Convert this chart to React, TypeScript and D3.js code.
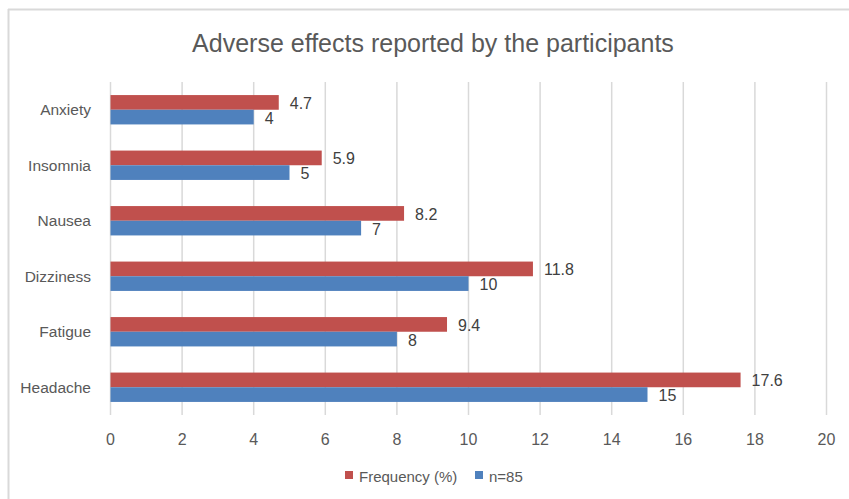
import React from "react";
import * as d3 from "d3";

const categories = ["Anxiety", "Insomnia", "Nausea", "Dizziness", "Fatigue", "Headache"];
const frequency = [4.7, 5.9, 8.2, 11.8, 9.4, 17.6];
const counts = [4, 5, 7, 10, 8, 15];
const xTicks = [0, 2, 4, 6, 8, 10, 12, 14, 16, 18, 20];
const seriesNames = ["Frequency (%)", "n=85"];
const colors = ["#C0504D", "#4F81BD"];

const W = 849;
const H = 499;
const FONT = "'Liberation Sans', Arial, sans-serif";

export default function App() {
  const x = d3.scaleLinear().domain([0, 20]).range([110.5, 826.5]);
  const y = d3.scaleBand<string>().domain(categories).range([82, 415]).paddingInner(0).paddingOuter(0);
  const inner = d3
    .scaleBand<number>()
    .domain([0, 1])
    .range([0, y.bandwidth()])
    .paddingInner(0)
    .paddingOuter(0.89);
  const series = [frequency, counts];

  return (
    <svg
      width={W}
      height={H}
      style={{ position: "absolute", left: 0, top: 0, background: "#fff" }}
      fontFamily={FONT}
    >
      <rect x={0} y={0} width={W} height={H} fill="#fff" />
      <line x1={8} x2={W} y1={9.5} y2={9.5} stroke="#d9d9d9" strokeWidth={2} />
      <line x1={8.5} x2={8.5} y1={9} y2={H} stroke="#d9d9d9" strokeWidth={2} />
      <text x={433} y={52} textAnchor="middle" fontSize={25} fill="#595959">
        Adverse effects reported by the participants
      </text>
      {xTicks.map((t) => (
        <line
          key={"g" + t}
          x1={x(t)}
          x2={x(t)}
          y1={82}
          y2={415}
          stroke="#d9d9d9"
          strokeWidth={1.5}
        />
      ))}
      {categories.map((c, i) => (
        <g key={c}>
          {series.map((s, si) => {
            const yy = (y(c) as number) + (inner(si) as number);
            const bh = inner.bandwidth();
            return (
              <g key={si}>
                <rect
                  x={x(0)}
                  y={yy}
                  width={x(s[i]) - x(0)}
                  height={bh}
                  fill={colors[si]}
                />
                <text
                  x={x(s[i]) + 11}
                  y={yy + bh / 2 + 1}
                  dominantBaseline="central"
                  fontSize={16}
                  fill="#404040"
                >
                  {s[i]}
                </text>
              </g>
            );
          })}
          <text
            x={91}
            y={(y(c) as number) + y.bandwidth() / 2}
            dominantBaseline="central"
            textAnchor="end"
            fontSize={15.5}
            fill="#595959"
          >
            {c}
          </text>
        </g>
      ))}
      {xTicks.map((t) => (
        <text
          key={"t" + t}
          x={x(t)}
          y={439}
          textAnchor="middle"
          dominantBaseline="central"
          fontSize={16}
          fill="#595959"
        >
          {t}
        </text>
      ))}
      {seriesNames.map((n, i) => {
        const lx = i === 0 ? 345 : 475;
        return (
          <g key={n}>
            <rect x={lx} y={471} width={8} height={8} fill={colors[i]} />
            <text x={lx + 14} y={476} dominantBaseline="central" fontSize={15} fill="#595959">
              {n}
            </text>
          </g>
        );
      })}
    </svg>
  );
}
